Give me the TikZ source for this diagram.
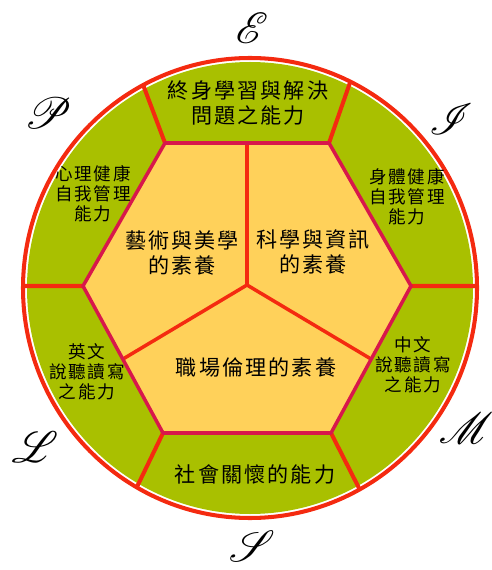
\documentclass[tikz,border=0pt]{standalone}
\usepackage{fontspec}
\usepackage{mathrsfs}
\usepackage{xcolor}
\usepackage{tikz}
\newfontfamily\zhfont[LetterSpace=10]{Noto Sans CJK TC}
\definecolor{ringred}{HTML}{F42A10}
\definecolor{hexred}{HTML}{D8174B}
\definecolor{segreen}{HTML}{A9C000}
\definecolor{inyellow}{HTML}{FFD15A}
\tikzset{
  bigtxt/.style={font=\zhfont\fontsize{12}{14.2}\selectfont, align=center, inner sep=0},
  smalltxt/.style={font=\zhfont\fontsize{10}{11.4}\selectfont, align=center, inner sep=0},
  letter/.style={font=\fontsize{29}{29}\selectfont, inner sep=0}
}

\begin{document}
\begin{tikzpicture}[x=0.02cm, y=-0.02cm]
      \useasboundingbox (0,0) rectangle (491,570);
      \fill [segreen] (250,288) circle [x radius=223, y radius=226];
      \coordinate (tl) at (165,143);
      \coordinate (tr) at (329,143);
      \coordinate (r) at (411,286);
      \coordinate (br) at (331,433);
      \coordinate (bl) at (163,433);
      \coordinate (l) at (83,286);
      \coordinate (hub) at (247,285);
      \coordinate (mt) at (247,143);
      \coordinate (ml) at (123,359);
      \coordinate (mr) at (371,359);
      \fill [inyellow] (tl) -- (tr) -- (r) -- (br) -- (bl) -- (l) -- cycle;
      \begin{scope}
        \clip (250,288) circle [x radius=227, y radius=230];
        \coordinate (tlo) at (139,74);
        \coordinate (tro) at (353,74);
        \coordinate (ro) at (485,286);
        \coordinate (bro) at (363,496);
        \coordinate (blo) at (134,493);
        \coordinate (lo) at (15,286);
        \draw [ringred, line width=2.3pt] (tl) -- (tlo) (tr) -- (tro) (r) -- (ro)
          (br) -- (bro) (bl) -- (blo) (l) -- (lo);
      \end{scope}
      \draw [ringred, line width=2pt] (hub) -- (mt) (hub) -- (ml) (hub) -- (mr);
      \draw [hexred, line width=2pt, line join=round] (tl) -- (tr) -- (r) -- (br) -- (bl) -- (l) -- cycle;
      \draw [ringred, line width=2.3pt] (250,288) circle [x radius=227, y radius=230];
      \node [letter] (E) at (252,28) {$\mathscr{E}$};
      \node [letter] (P) at (48,113) {$\mathscr{P}$};
      \node [letter] (I) at (451,119) {$\mathscr{I}$};
      \node [letter] (M) at (466,428) {$\mathscr{M}$};
      \node [letter] (S) at (252,546) {$\mathscr{S}$};
      \node [letter] (L) at (35,447) {$\mathscr{L}$};
      \node [bigtxt] (top) at (248,103) {終身學習與解決\\問題之能力};
      \node [smalltxt] (lefttop) at (93,194) {心理健康\\自我管理\\能力};
      \node [smalltxt] (righttop) at (407,197) {身體健康\\自我管理\\能力};
      \node [bigtxt] (arts) at (182,253) {藝術與美學\\的素養};
      \node [bigtxt] (science) at (313,252) {科學與資訊\\的素養};
      \node [bigtxt] (ethics) at (256,367) {職場倫理的素養};
      \node [smalltxt] (english) at (87,372) {英文\\說聽讀寫\\之能力};
      \node [smalltxt] (chinese) at (413,365) {中文\\說聽讀寫\\之能力};
      \node [bigtxt] (social) at (255,474) {社會關懷的能力};
    \end{tikzpicture}
\end{document}
